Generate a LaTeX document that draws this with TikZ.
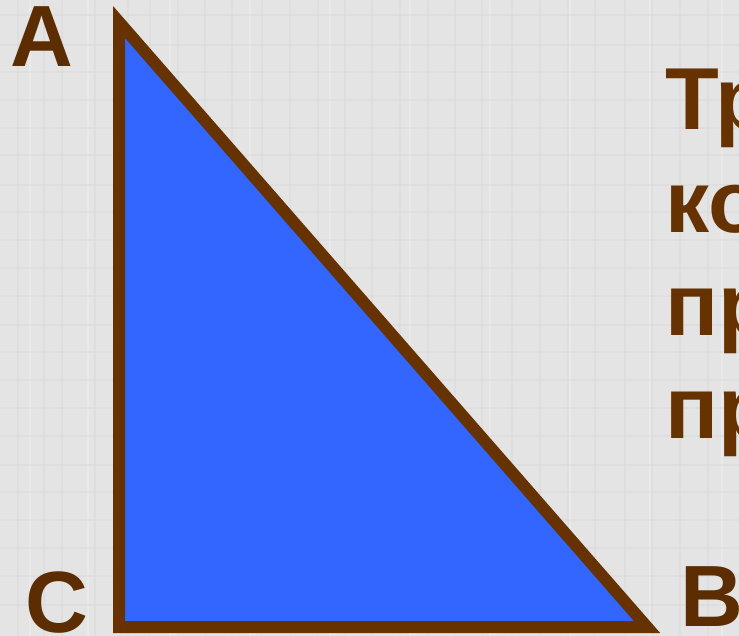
\documentclass[tikz,border=0pt]{standalone}
\usepackage{fontspec}
\setmainfont{Liberation Sans}
\definecolor{bg}{HTML}{E4E4E4}
\definecolor{gridc}{HTML}{D8D8D8}
\definecolor{gridl}{HTML}{EEEEEE}
\definecolor{edge}{HTML}{663300}
\definecolor{lab}{HTML}{5C2D00}
\definecolor{fillb}{HTML}{3366FF}
\begin{document}
\begin{tikzpicture}[x=1pt,y=-1pt,
  vlabel/.style={inner sep=0pt,anchor=base west,text=lab,font=\fontsize{87}{104}\selectfont\bfseries},
  sidetext/.style={inner sep=0pt,anchor=base west,text=edge,font=\fontsize{88}{104}\selectfont\bfseries}]
\useasboundingbox (0,0) rectangle (739,636);
\fill[bg] (0,0) rectangle (739,636);
\foreach \x in {18,44,62,95,128,150,178,205,232,262,290,318,345,372,400,428,455,482,512,540,568,595,625,652,680,708} {
  \draw[gridc,line width=1.2pt,opacity=0.45] (\x,0) -- (\x,636);
}
\foreach \x in {30,88,170,250,330,410,490,570,650,722} {
  \draw[gridl,line width=1.5pt,opacity=0.6] (\x,0) -- (\x,636);
}
\foreach \y in {15,45,72,100,128,155,185,212,240,268,296,325,352,380,408,436,465,492,520,548,576,605} {
  \draw[gridc,line width=1.2pt,opacity=0.45] (0,\y) -- (739,\y);
}
\coordinate (A) at (119,22);
\coordinate (C) at (119,627);
\coordinate (B) at (647,627);
\filldraw[fill=fillb,draw=edge,line width=12pt,line join=miter,miter limit=10] (A) -- (B) -- (C) -- cycle;
\node[vlabel] (la) at (10,67) {A};
\node[vlabel] (lc) at (25,632) {C};
\node[vlabel] (lb) at (680,626) {B};
\node[sidetext] (t1) at (665,130) {Тр};
\node[sidetext] (t2) at (665,233) {ко};
\node[sidetext] (t3) at (665,335) {пр};
\node[sidetext] (t4) at (665,438) {пр};
\end{tikzpicture}
\end{document}
